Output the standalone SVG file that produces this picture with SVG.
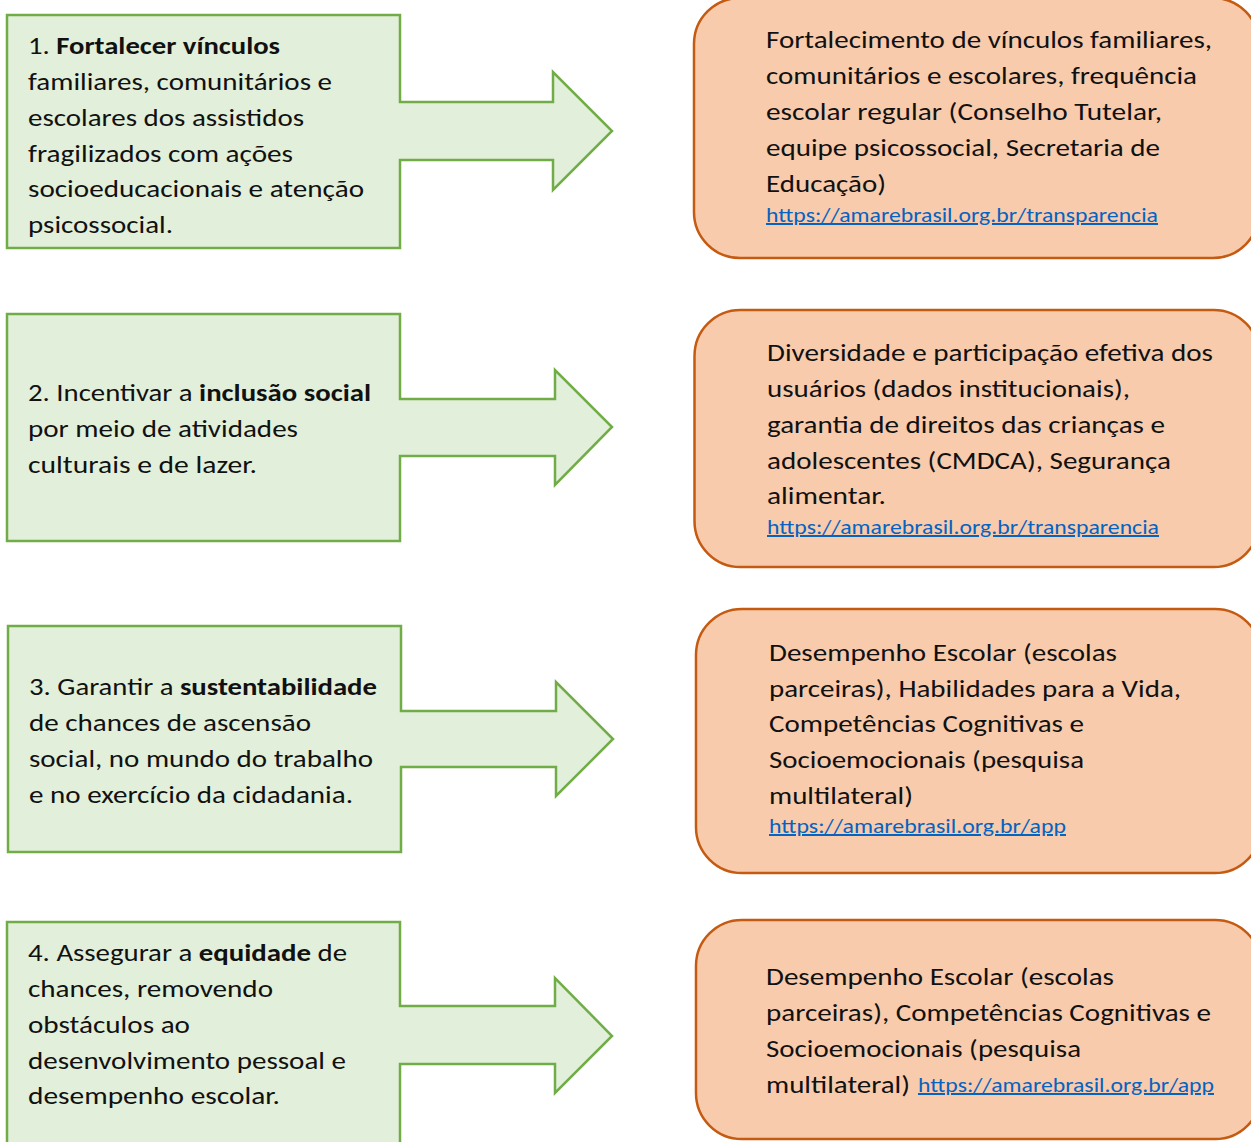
<svg xmlns="http://www.w3.org/2000/svg" width="1251" height="1142" viewBox="0 0 1251 1142">
<style>
.g{fill:#E2EFDA;stroke:#70AD47;stroke-width:2.5;stroke-linejoin:miter}
.o{fill:#F8CBAD;stroke:#C55A11;stroke-width:2.5}
text{font-family:Carlito,"Noto Sans","Liberation Sans",sans-serif;font-size:24px;fill:#111;lengthAdjust:spacingAndGlyphs}
.b{font-weight:bold}
.l{font-size:20px;fill:#0563C1;text-decoration:underline}
</style>
<rect width="1251" height="1142" fill="#fff"/>
<g id="connectors"></g>
<g id="goal1">
<path class="g" d="M7,15H400V102H553V72L612,131L553,190V160H400V248H7Z"/>
<text x="28" y="54" textLength="252" lengthAdjust="spacingAndGlyphs">1. <tspan class="b">Fortalecer vínculos</tspan></text>
<text x="28" y="90" textLength="304" lengthAdjust="spacingAndGlyphs">familiares, comunitários e</text>
<text x="28" y="126" textLength="276" lengthAdjust="spacingAndGlyphs">escolares dos assistidos</text>
<text x="28" y="162" textLength="265" lengthAdjust="spacingAndGlyphs">fragilizados com ações</text>
<text x="28" y="197" textLength="336" lengthAdjust="spacingAndGlyphs">socioeducacionais e atenção</text>
<text x="28" y="233" textLength="145" lengthAdjust="spacingAndGlyphs">psicossocial.</text>
</g>
<g id="goal2">
<path class="g" d="M7,314H400V399H555V370L612,427L555,485V456H400V541H7Z"/>
<text x="28" y="401" textLength="343" lengthAdjust="spacingAndGlyphs">2. Incentivar a <tspan class="b">inclusão social</tspan></text>
<text x="28" y="437" textLength="270" lengthAdjust="spacingAndGlyphs">por meio de atividades</text>
<text x="28" y="473" textLength="229" lengthAdjust="spacingAndGlyphs">culturais e de lazer.</text>
</g>
<g id="goal3">
<path class="g" d="M8,626H401V711H556V682L613,739L556,796V767H401V852H8Z"/>
<text x="29" y="695" textLength="348" lengthAdjust="spacingAndGlyphs">3. Garantir a <tspan class="b">sustentabilidade</tspan></text>
<text x="29" y="731" textLength="282" lengthAdjust="spacingAndGlyphs">de chances de ascensão</text>
<text x="29" y="767" textLength="344" lengthAdjust="spacingAndGlyphs">social, no mundo do trabalho</text>
<text x="29" y="803" textLength="324" lengthAdjust="spacingAndGlyphs">e no exercício da cidadania.</text>
</g>
<g id="goal4">
<path class="g" d="M7,1146V922H400V1006H555V978L612,1036L555,1093V1064H400V1146"/>
<text x="28" y="961" textLength="319" lengthAdjust="spacingAndGlyphs">4. Assegurar a <tspan class="b">equidade</tspan> de</text>
<text x="28" y="997" textLength="245" lengthAdjust="spacingAndGlyphs">chances, removendo</text>
<text x="28" y="1033" textLength="162" lengthAdjust="spacingAndGlyphs">obstáculos ao</text>
<text x="28" y="1069" textLength="318" lengthAdjust="spacingAndGlyphs">desenvolvimento pessoal e</text>
<text x="28" y="1104" textLength="252" lengthAdjust="spacingAndGlyphs">desempenho escolar.</text>
</g>
<g id="indicator1">
<rect class="o" x="694" y="-2" width="565" height="260" rx="46" ry="46"/>
<text x="766" y="48" textLength="446" lengthAdjust="spacingAndGlyphs">Fortalecimento de vínculos familiares,</text>
<text x="766" y="84" textLength="431" lengthAdjust="spacingAndGlyphs">comunitários e escolares, frequência</text>
<text x="766" y="120" textLength="396" lengthAdjust="spacingAndGlyphs">escolar regular (Conselho Tutelar,</text>
<text x="766" y="156" textLength="394" lengthAdjust="spacingAndGlyphs">equipe psicossocial, Secretaria de</text>
<text x="766" y="192" textLength="120" lengthAdjust="spacingAndGlyphs">Educação)</text>
<text class="l" x="766" y="222" textLength="392" lengthAdjust="spacingAndGlyphs">https://amarebrasil.org.br/transparencia</text>
</g>
<g id="indicator2">
<rect class="o" x="694.5" y="310" width="565" height="257" rx="46" ry="46"/>
<text x="767" y="361" textLength="446" lengthAdjust="spacingAndGlyphs">Diversidade e participação efetiva dos</text>
<text x="767" y="397" textLength="363" lengthAdjust="spacingAndGlyphs">usuários (dados institucionais),</text>
<text x="767" y="433" textLength="398" lengthAdjust="spacingAndGlyphs">garantia de direitos das crianças e</text>
<text x="767" y="469" textLength="404" lengthAdjust="spacingAndGlyphs">adolescentes (CMDCA), Segurança</text>
<text x="767" y="504" textLength="119" lengthAdjust="spacingAndGlyphs">alimentar.</text>
<text class="l" x="767" y="534" textLength="392" lengthAdjust="spacingAndGlyphs">https://amarebrasil.org.br/transparencia</text>
</g>
<g id="indicator3">
<rect class="o" x="696" y="609" width="565" height="264" rx="46" ry="46"/>
<text x="769" y="661" textLength="348" lengthAdjust="spacingAndGlyphs">Desempenho Escolar (escolas</text>
<text x="769" y="697" textLength="412" lengthAdjust="spacingAndGlyphs">parceiras), Habilidades para a Vida,</text>
<text x="769" y="732" textLength="315" lengthAdjust="spacingAndGlyphs">Competências Cognitivas e</text>
<text x="769" y="768" textLength="315" lengthAdjust="spacingAndGlyphs">Socioemocionais (pesquisa</text>
<text x="769" y="804" textLength="144" lengthAdjust="spacingAndGlyphs">multilateral)</text>
<text class="l" x="769" y="833" textLength="297" lengthAdjust="spacingAndGlyphs">https://amarebrasil.org.br/app</text>
</g>
<g id="indicator4">
<rect class="o" x="696" y="920" width="565" height="219" rx="46" ry="46"/>
<text x="766" y="985" textLength="348" lengthAdjust="spacingAndGlyphs">Desempenho Escolar (escolas</text>
<text x="766" y="1021" textLength="445" lengthAdjust="spacingAndGlyphs">parceiras), Competências Cognitivas e</text>
<text x="766" y="1057" textLength="315" lengthAdjust="spacingAndGlyphs">Socioemocionais (pesquisa</text>
<text x="766" y="1093" textLength="144" lengthAdjust="spacingAndGlyphs">multilateral)</text>
<text class="l" x="918" y="1092" textLength="296" lengthAdjust="spacingAndGlyphs">https://amarebrasil.org.br/app</text>
</g>
</svg>
